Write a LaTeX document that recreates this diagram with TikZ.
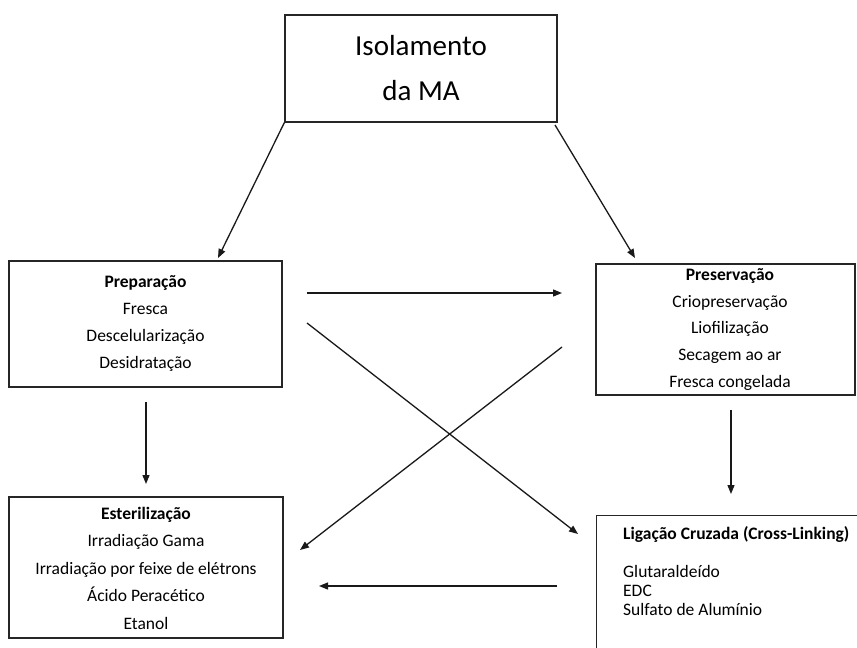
\documentclass[tikz,border=0pt]{standalone}
\usepackage{fontspec}
\setmainfont{Carlito}
\usetikzlibrary{arrows.meta}
\tikzset{
  box/.style={draw=black!85, line width=1.4pt, rectangle, inner sep=0pt},
  txt/.style={inner sep=0pt, align=center, font=\fontsize{17.5}{27}\selectfont},
  conn/.style={draw=black!90, line width=1.3pt, -{Triangle[length=9pt,width=7pt]}}
}
\begin{document}
\begin{tikzpicture}[x=1pt,y=-1pt]
\useasboundingbox (0,0) rectangle (857,648);
\clip (0,0) rectangle (857,648);
% top box
\node[box, minimum width=272pt, minimum height=107pt, align=center,
      font=\fontsize{29}{45}\selectfont] (top) at (421,68.5) {Isolamento\\da MA};
% preparacao
\node[box, minimum width=273pt, minimum height=126pt] (prep) at (145.5,324) {};
\node[txt] (preptext) at (145.5,323) {\textbf{Preparação}\\Fresca\\Descelularização\\Desidratação};
% preservacao
\node[box, minimum width=259pt, minimum height=131pt] (pres) at (725.5,329.5) {};
\node[txt, font=\fontsize{17.5}{26.75}\selectfont] (prestext) at (730,329.5) {\textbf{Preservação}\\Criopreservação\\Liofilização\\Secagem ao ar\\Fresca congelada};
% esterilizacao
\node[box, minimum width=274pt, minimum height=141pt] (ester) at (146,567.5) {};
\node[txt, font=\fontsize{17.5}{27.5}\selectfont] (estertext) at (146,568) {\textbf{Esterilização}\\Irradiação Gama\\Irradiação por feixe de elétrons\\Ácido Peracético\\Etanol};
% ligacao
\node[box, anchor=north west, minimum width=290pt, minimum height=160pt] (lig) at (596,515) {};
\node[inner sep=0pt, anchor=north west, align=left, font=\fontsize{17.5}{19}\selectfont] (ligtext) at (623,526) {\textbf{Ligação Cruzada (Cross-Linking)}\\[19pt]Glutaraldeído\\EDC\\Sulfato de Alumínio};
% arrow end points
\coordinate (a1e) at (218,258);
\coordinate (a2s) at (555,125);
\coordinate (a2e) at (635,258);
\coordinate (a3s) at (307,293);
\coordinate (a3e) at (562,293);
\coordinate (a4s) at (307,323);
\coordinate (a4e) at (578,534);
\coordinate (a5s) at (562,347);
\coordinate (a5e) at (300,550);
\coordinate (a6s) at (146,402);
\coordinate (a6e) at (146,484);
\coordinate (a7s) at (731,410);
\coordinate (a7e) at (731,494);
\coordinate (a8s) at (557,586);
\coordinate (a8e) at (319,586);
\draw[conn] (top.south west) -- (a1e);
\draw[conn] (a2s) -- (a2e);
\draw[conn] (a3s) -- (a3e);
\draw[conn] (a4s) -- (a4e);
\draw[conn] (a5s) -- (a5e);
\draw[conn] (a6s) -- (a6e);
\draw[conn] (a7s) -- (a7e);
\draw[conn] (a8s) -- (a8e);
\end{tikzpicture}
\end{document}
